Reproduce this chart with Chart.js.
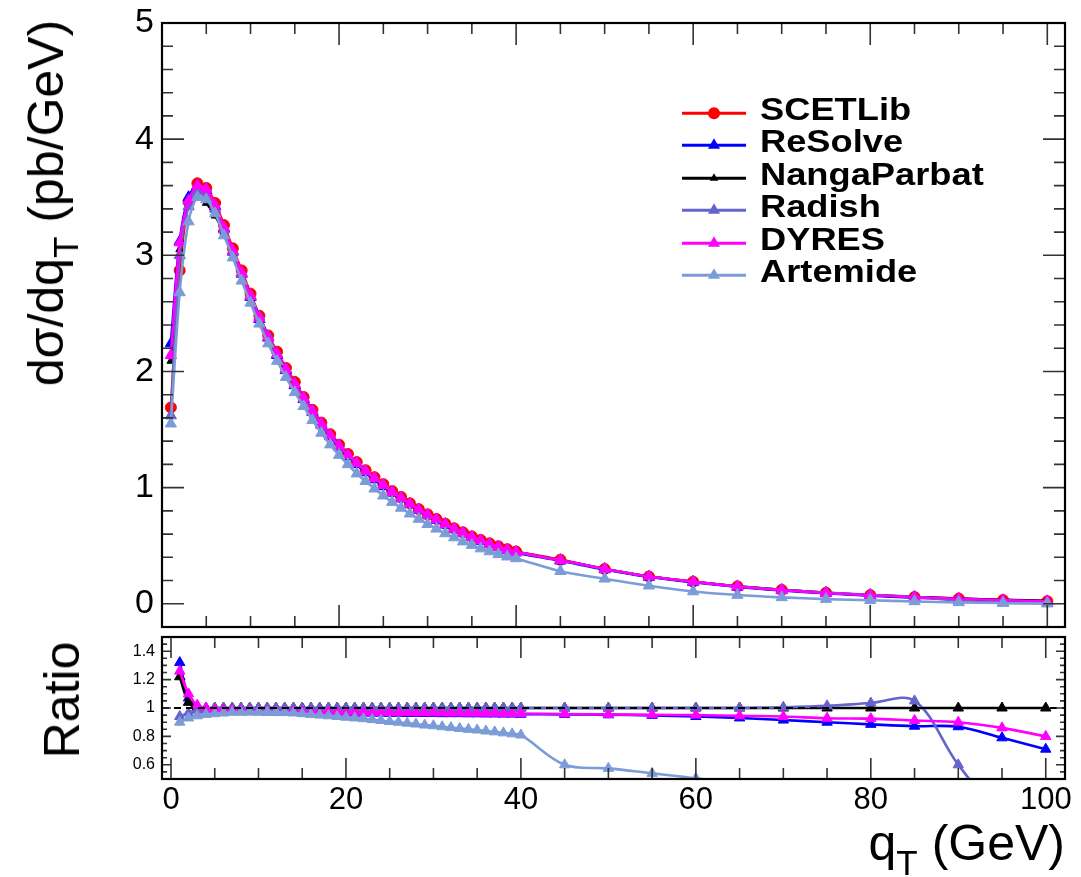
<!DOCTYPE html>
<html><head><meta charset="utf-8">
<script src="https://cdn.jsdelivr.net/npm/chart.js@4.4.1/dist/chart.umd.min.js"></script>
<style>
html,body{margin:0;padding:0;background:#fff;}
body{width:1081px;height:877px;position:relative;overflow:hidden;font-family:"Liberation Sans",Arial,sans-serif;color:#000;}
#mainWrap{position:absolute;left:0;top:0;width:1081px;height:640px;}
#ratioWrap{position:absolute;left:0;top:630px;width:1081px;height:247px;}
canvas{display:block;}
.rot{position:absolute;white-space:nowrap;line-height:1;transform:translate(-50%,-50%) rotate(-90deg);}
.sub{font-size:0.7em;position:relative;top:0.42em;}
#xtitle{position:absolute;right:16px;top:818px;font-size:50px;line-height:1;white-space:nowrap;}
#legend{position:absolute;left:682px;top:97px;}
.lrow{position:relative;height:32.4px;width:340px;}
.lrow svg{position:absolute;left:0;top:0;}
.lrow span{position:absolute;left:78px;top:-3px;font-weight:bold;font-size:31px;line-height:32.4px;white-space:nowrap;transform:scaleX(1.17);transform-origin:left center;}
</style></head>
<body>
<div id="mainWrap"><canvas id="mainChart" width="1081" height="640"></canvas></div>
<div id="ratioWrap"><canvas id="ratioChart" width="1081" height="247"></canvas></div>
<div class="rot" id="ytitle" style="left:46px;top:203px;font-size:50px;">dσ/dq<span class="sub">T</span> (pb/GeV)</div>
<div class="rot" id="rtitle" style="left:62px;top:700px;font-size:50px;">Ratio</div>
<div id="xtitle">q<span class="sub">T</span> (GeV)</div>
<div id="legend"></div>
<script>
// ---------------- data ----------------
const qT = [1,2,3,4,5,6,7,8,9,10,11,12,13,14,15,16,17,18,19,20,
            21,22,23,24,25,26,27,28,29,30,31,32,33,34,35,36,37,38,39,40,
            45,50,55,60,65,70,75,80,85,90,95,100];

const seriesNames = ['SCETLib','ReSolve','NangaParbat','Radish','DYRES','Artemide'];

const scetlib = [1.69,2.87,3.46,3.62,3.58,3.45,3.26,3.06,2.87,2.67,
  2.48,2.31,2.17,2.03,1.91,1.78,1.67,1.56,1.46,1.37,
  1.29,1.22,1.15,1.09,1.03,0.97,0.92,0.865,0.815,0.77,
  0.73,0.69,0.65,0.615,0.58,0.55,0.52,0.495,0.47,0.45,
  0.38,0.30,0.235,0.19,0.15,0.12,0.095,0.075,0.058,0.045,0.032,0.022];
const resolve = [2.24,3.12,3.50,3.60,3.56,3.42,3.23,3.03,2.84,2.64,
  2.45,2.29,2.14,2.01,1.88,1.76,1.65,1.54,1.44,1.35,
  1.27,1.20,1.13,1.07,1.01,0.955,0.905,0.855,0.805,0.76,
  0.72,0.68,0.64,0.605,0.57,0.54,0.51,0.485,0.46,0.44,
  0.37,0.295,0.23,0.185,0.145,0.115,0.09,0.07,0.053,0.04,0.028,0.018];
const nangaparbat = [2.09,3.05,3.47,3.50,3.45,3.34,3.20,3.02,2.84,2.65,
  2.47,2.30,2.15,2.02,1.89,1.77,1.66,1.55,1.45,1.36,
  1.28,1.21,1.14,1.08,1.02,0.965,0.91,0.86,0.81,0.765,
  0.725,0.685,0.645,0.61,0.575,0.545,0.515,0.49,0.465,0.445,
  0.375,0.30,0.235,0.19,0.15,0.12,0.095,0.075,0.058,0.045,0.034,0.025];
const radish = [1.62,3.00,3.42,3.55,3.52,3.40,3.22,3.03,2.84,2.65,
  2.47,2.30,2.15,2.02,1.89,1.77,1.66,1.55,1.45,1.36,
  1.28,1.21,1.14,1.08,1.02,0.965,0.91,0.86,0.81,0.765,
  0.725,0.685,0.645,0.61,0.575,0.545,0.515,0.49,0.465,0.445,
  0.375,0.30,0.235,0.19,0.15,0.12,0.096,0.077,0.06,0.027,0.009,0.003];
const dyres = [2.14,3.11,3.47,3.60,3.57,3.43,3.24,3.04,2.85,2.65,
  2.46,2.29,2.15,2.02,1.89,1.77,1.66,1.55,1.45,1.36,
  1.28,1.21,1.14,1.08,1.02,0.96,0.91,0.86,0.81,0.765,
  0.725,0.685,0.645,0.61,0.575,0.545,0.515,0.49,0.465,0.445,
  0.375,0.30,0.235,0.19,0.148,0.118,0.093,0.073,0.056,0.043,0.031,0.021];
const artemide = [1.55,2.68,3.29,3.50,3.48,3.36,3.17,2.98,2.78,2.59,
  2.41,2.24,2.09,1.95,1.82,1.70,1.58,1.47,1.37,1.28,
  1.20,1.12,1.055,0.99,0.93,0.875,0.825,0.775,0.73,0.685,
  0.645,0.605,0.57,0.535,0.505,0.475,0.45,0.425,0.405,0.39,
  0.28,0.215,0.155,0.105,0.075,0.055,0.04,0.03,0.02,0.012,0.006,0.002];

// ratio panel values
const ratioResolve = [1.32,1.07,1.01,0.99,0.98,0.978,0.976,0.975,0.974,0.973,
  0.972,0.971,0.97,0.97,0.969,0.968,0.968,0.967,0.966,0.966,
  0.965,0.965,0.964,0.964,0.963,0.963,0.962,0.962,0.961,0.961,
  0.96,0.96,0.96,0.959,0.959,0.958,0.958,0.957,0.957,0.956,
  0.955,0.952,0.948,0.94,0.93,0.915,0.90,0.885,0.872,0.868,0.79,0.71];
const ratioNangaParbat = [1.22,1.04,1.0,1.0,1.0,1.0,1.0,1.0,1.0,1.0,
  1.0,1.0,1.0,1.0,1.0,1.0,1.0,1.0,1.0,1.0,
  1.0,1.0,1.0,1.0,1.0,1.0,1.0,1.0,1.0,1.0,
  1.0,1.0,1.0,1.0,1.0,1.0,1.0,1.0,1.0,1.0,
  1.0,1.0,1.0,1.0,1.0,1.0,1.0,1.0,1.0,1.0,1.0,1.0];
const ratioRadish = [0.94,0.965,0.985,0.995,1.0,1.0,1.0,1.0,1.0,1.0,
  1.0,1.0,1.0,1.0,1.0,1.0,1.0,1.0,1.0,1.0,
  1.0,1.0,1.0,1.0,1.0,1.0,1.0,1.0,1.0,1.0,
  1.0,1.0,1.0,1.0,1.0,1.0,1.0,1.0,1.0,1.0,
  1.0,1.0,1.0,1.0,1.0,1.005,1.015,1.035,1.05,0.60,0.25,0.10];
const ratioDyres = [1.26,1.10,1.02,1.0,0.99,0.985,0.982,0.98,0.979,0.978,
  0.977,0.976,0.975,0.975,0.974,0.973,0.973,0.972,0.972,0.971,
  0.971,0.97,0.97,0.969,0.969,0.968,0.968,0.967,0.967,0.966,
  0.966,0.965,0.965,0.964,0.964,0.963,0.963,0.962,0.962,0.961,
  0.958,0.955,0.952,0.95,0.945,0.94,0.928,0.925,0.912,0.90,0.86,0.80];
const ratioArtemide = [0.90,0.93,0.945,0.955,0.96,0.965,0.97,0.97,0.972,0.972,
  0.972,0.97,0.968,0.965,0.96,0.955,0.95,0.945,0.94,0.935,
  0.93,0.925,0.918,0.912,0.905,0.90,0.893,0.887,0.88,0.875,
  0.868,0.862,0.856,0.85,0.845,0.838,0.832,0.825,0.818,0.81,
  0.60,0.575,0.54,0.505,0.46,0.43,0.40,0.37,0.35,0.30,0.25,0.10];

const refLineX = [-1.03, 102.2];
const refLineY = [1, 1];

const mainYTicks = [0,1,2,3,4,5];
const ratioYTicks = [0.6,0.8,1,1.2,1.4];
const xTickLabels = [0,20,40,60,80,100];

// ---------------- styles ----------------
const colors = {SCETLib:'#ff0000', ReSolve:'#0000ff', NangaParbat:'#000000', Radish:'#6464cc', DYRES:'#ff00ff', Artemide:'#7c9cd8'};
const FONT = '"Liberation Sans", Arial, sans-serif';

function pts(vals){ return qT.map((x,i)=>({x:x, y:vals[i]})); }

function ds(label, vals, style, radius, order, tension){
  const c = colors[label];
  return {label, data: pts(vals), borderColor:c, backgroundColor:c, borderWidth:2.6,
    pointStyle: style, pointRadius: radius, pointBorderWidth:1, pointBackgroundColor:c, pointBorderColor:c,
    tension: tension, clip: 0, order: order, fill:false};
}

function noPad(s){ s.paddingTop = 0; s.paddingBottom = 0; s.paddingLeft = 0; s.paddingRight = 0; }

const frameTicks = {
  id:'frameTicks',
  afterDatasetsDraw(chart, args, o){
    const {ctx, chartArea:a, scales} = chart;
    const xs = scales.x, ys = scales.y;
    ctx.save();
    ctx.strokeStyle = '#333'; ctx.lineWidth = 1.6;
    ctx.beginPath();
    const isMajor = (v, m) => Math.abs(v/m - Math.round(v/m)) < 1e-6;
    for (let k=0;;k++){
      const v = o.x.from + k*o.x.minor; if (v > o.x.to + 1e-9) break;
      const p = xs.getPixelForValue(v);
      const L = isMajor(v, o.x.major) ? o.x.majorLen : o.x.minorLen;
      ctx.moveTo(p, a.bottom); ctx.lineTo(p, a.bottom - L);
      ctx.moveTo(p, a.top); ctx.lineTo(p, a.top + L);
    }
    for (let k=0;;k++){
      const v = o.y.from + k*o.y.minor; if (v > o.y.to + 1e-9) break;
      const p = ys.getPixelForValue(v);
      const L = isMajor(v - o.y.base, o.y.major) ? o.y.majorLen : o.y.minorLen;
      ctx.moveTo(a.left, p); ctx.lineTo(a.left + L, p);
      ctx.moveTo(a.right, p); ctx.lineTo(a.right - L, p);
    }
    ctx.stroke();
    ctx.strokeStyle = '#000'; ctx.lineWidth = 2.2;
    ctx.strokeRect(a.left, a.top, a.right - a.left, a.bottom - a.top);
    ctx.restore();
  }
};

// ---------------- main chart ----------------
new Chart(document.getElementById('mainChart'), {
  type:'line',
  data:{datasets:[
    ds('SCETLib', scetlib, 'circle', 5.5, 6, 0.3),
    ds('ReSolve', resolve, 'triangle', 6.5, 5, 0.3),
    ds('NangaParbat', nangaparbat, 'triangle', 4.5, 4, 0.3),
    ds('Radish', radish, 'triangle', 6.5, 3, 0.3),
    ds('DYRES', dyres, 'triangle', 6.5, 2, 0.3),
    ds('Artemide', artemide, 'triangle', 6.5, 1, 0.3)
  ]},
  options:{
    responsive:false, animation:false, events:[],
    layout:{padding:{top:23,right:16,bottom:13,left:0}},
    plugins:{legend:{display:false}, tooltip:{enabled:false},
      frameTicks:{x:{from:0,to:100,minor:5,major:20,minorLen:11,majorLen:22},
                  y:{from:-0.2,to:5,minor:0.2,major:1,base:0,minorLen:11,majorLen:22}}},
    scales:{
      x:{type:'linear', min:0, max:102, grid:{display:false, drawTicks:false}, border:{display:false},
         ticks:{display:false}, afterFit(s){ s.height = 0; noPad(s); }},
      y:{type:'linear', min:-0.2, max:5, grid:{display:false, drawTicks:false}, border:{display:false},
         ticks:{color:'#000', padding:8, font:{family:FONT, size:34}},
         afterBuildTicks(s){ s.ticks = mainYTicks.map(v=>({value:v})); },
         afterFit(s){ s.width = 162; noPad(s); }}
    }
  },
  plugins:[frameTicks]
});

// ---------------- ratio chart ----------------
const refDs = {label:'ref', data: refLineX.map((x,i)=>({x:x, y:refLineY[i]})), borderColor:'#000', borderWidth:2,
  borderDash:[7,5], pointRadius:0, clip:0, order:0, fill:false};

new Chart(document.getElementById('ratioChart'), {
  type:'line',
  data:{datasets:[
    ds('ReSolve', ratioResolve, 'triangle', 6, 5, 0.35),
    ds('NangaParbat', ratioNangaParbat, 'triangle', 6, 4, 0.35),
    ds('Radish', ratioRadish, 'triangle', 6, 3, 0.35),
    ds('DYRES', ratioDyres, 'triangle', 6, 2, 0.35),
    ds('Artemide', ratioArtemide, 'triangle', 6, 1, 0.35),
    refDs
  ]},
  options:{
    responsive:false, animation:false, events:[],
    layout:{padding:{top:7,right:16,bottom:0,left:0}},
    plugins:{legend:{display:false}, tooltip:{enabled:false},
      frameTicks:{x:{from:0,to:100,minor:5,major:20,minorLen:11,majorLen:21},
                  y:{from:0.5,to:1.5,minor:0.05,major:0.2,base:0.6,minorLen:5,majorLen:9}}},
    scales:{
      x:{type:'linear', min:-1.03, max:102.2, grid:{display:false, drawTicks:false}, border:{display:false},
         ticks:{color:'#000', padding:3, autoSkip:false, maxRotation:0, font:{family:FONT, size:31}},
         afterBuildTicks(s){ s.ticks = xTickLabels.map(v=>({value:v})); },
         afterFit(s){ s.height = 98; noPad(s); }},
      y:{type:'linear', min:0.5, max:1.5, grid:{display:false, drawTicks:false}, border:{display:false},
         ticks:{color:'#000', padding:7, font:{family:FONT, size:16}, callback:(v)=>String(v)},
         afterBuildTicks(s){ s.ticks = ratioYTicks.map(v=>({value:v})); },
         afterFit(s){ s.width = 162; noPad(s); }}
    }
  },
  plugins:[frameTicks]
});

// ---------------- legend (HTML) ----------------
const legendMarkers = {SCETLib:['circle',6], ReSolve:['tri',7], NangaParbat:['tri',5], Radish:['tri',7], DYRES:['tri',7], Artemide:['tri',7]};
const lg = document.getElementById('legend');
seriesNames.forEach(name=>{
  const c = colors[name];
  const [shape, r] = legendMarkers[name];
  const cy = 16.2, cx = 32;
  let marker;
  if (shape === 'circle') marker = `<circle cx="${cx}" cy="${cy}" r="${r}" fill="${c}"/>`;
  else {
    const h = r*Math.sqrt(3)/2;
    marker = `<polygon points="${cx},${cy - r} ${cx - h},${cy + r/2} ${cx + h},${cy + r/2}" fill="${c}"/>`;
  }
  const row = document.createElement('div');
  row.className = 'lrow';
  row.innerHTML = `<svg width="66" height="33"><line x1="0" y1="${cy}" x2="64" y2="${cy}" stroke="${c}" stroke-width="3"/>${marker}</svg><span>${name}</span>`;
  lg.appendChild(row);
});
</script>
</body></html>
